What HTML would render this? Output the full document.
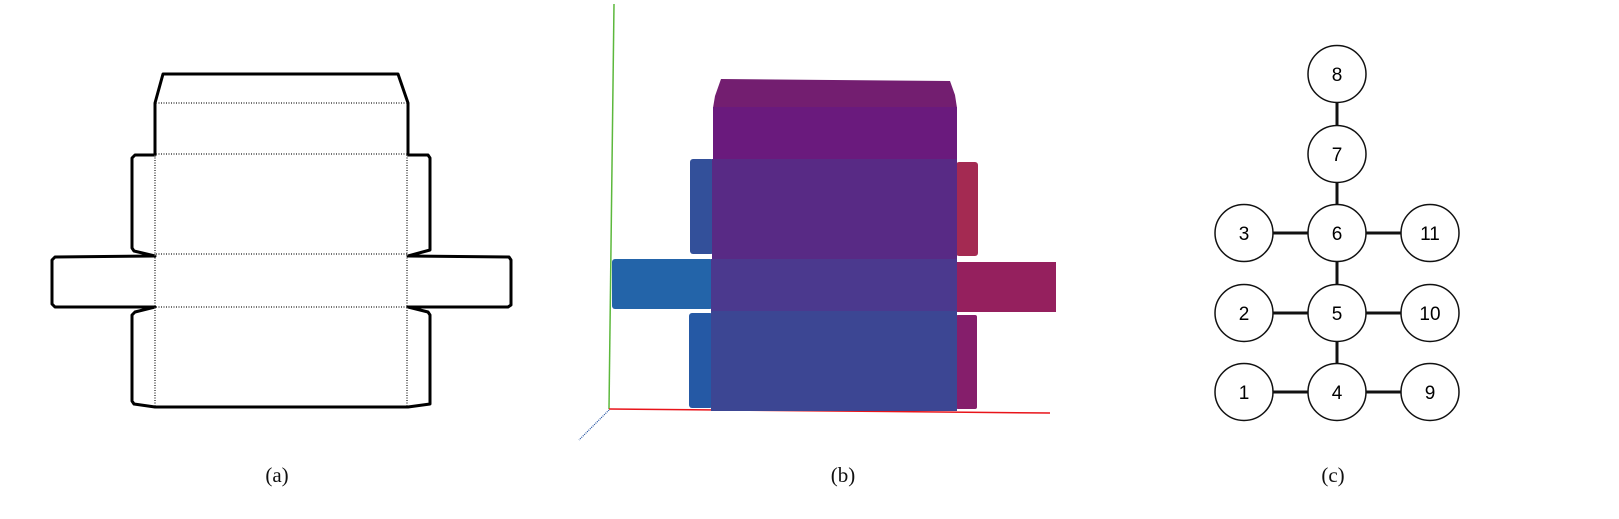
<!DOCTYPE html>
<html><head><meta charset="utf-8"><style>
html,body{margin:0;padding:0;background:#fff;}
svg{display:block;}
</style></head><body>
<svg width="1619" height="519" viewBox="0 0 1619 519" xmlns="http://www.w3.org/2000/svg">
<g>
  <path d="M163,74 L398,74 L408,103 L408,155 L428,155 L430,158 L430,250 L408,256 L509,257 L511,260 L511,305 L508,307 L408,307 L428,312 L430,315 L430,404 L408,407 L155,407 L134,404 L132,401 L132,315 L135,312 L155,307 L55,307 L52,304 L52,260 L55,257 L155,256 L134,251 L132,248 L132,158 L135,155 L155,155 L155,103 Z" fill="#fff" stroke="#000" stroke-width="3" stroke-linejoin="round"/>
  <g stroke="#444" stroke-width="1.5" stroke-dasharray="1 1.5" fill="none">
    <line x1="156" y1="103" x2="407" y2="103"/>
    <line x1="156" y1="154" x2="407" y2="154"/>
    <line x1="156" y1="254" x2="407" y2="254"/>
    <line x1="156" y1="307" x2="407" y2="307"/>
    <line x1="155" y1="155" x2="155" y2="406"/>
    <line x1="407" y1="155" x2="407" y2="406"/>
  </g>
</g>
<g>
  <line x1="614" y1="4" x2="609" y2="409" stroke="#5cb83c" stroke-width="1.5"/>
  <line x1="609" y1="409" x2="1050" y2="413" stroke="#e8141a" stroke-width="1.5"/>
  <line x1="609" y1="410" x2="579" y2="440" stroke="#1e4fa0" stroke-width="1.2" stroke-dasharray="1 1"/>
  <path d="M721,79 L950,81 L955,95 L957,108 L713,108 L715,96 Z" fill="#731e70"/>
  <rect x="713" y="107" width="244" height="53" fill="#6a1a7d"/>
  <rect x="690" y="159" width="24" height="95" rx="3" fill="#33509a"/>
  <rect x="956" y="162" width="22" height="94" rx="3" fill="#a42a52"/>
  <rect x="712" y="159" width="245" height="101" fill="#582a85"/>
  <rect x="612" y="259" width="101" height="50" rx="3" fill="#2364a9"/>
  <rect x="956" y="262" width="100" height="50" fill="#95205e"/>
  <rect x="711" y="259" width="246" height="53" fill="#4b398e"/>
  <rect x="689" y="313" width="24" height="95" rx="3" fill="#2559a5"/>
  <rect x="956" y="315" width="21" height="94" rx="2" fill="#851e6b"/>
  <rect x="711" y="311" width="246" height="100" fill="#3c4693"/>
</g>
<g font-family="'Liberation Sans', 'DejaVu Sans', sans-serif" font-size="19" text-anchor="middle">
  <g stroke="#111" stroke-width="3">
    <line x1="1337" y1="74" x2="1337" y2="392"/>
    <line x1="1244" y1="233" x2="1430" y2="233"/>
    <line x1="1244" y1="313" x2="1430" y2="313"/>
    <line x1="1244" y1="392" x2="1430" y2="392"/>
  </g>
  <g><ellipse cx="1337" cy="74" rx="29" ry="28.5" fill="#fff" stroke="#111" stroke-width="1.5"/><text x="1337" y="81">8</text></g>
  <g><ellipse cx="1337" cy="154" rx="29" ry="28.5" fill="#fff" stroke="#111" stroke-width="1.5"/><text x="1337" y="161">7</text></g>
  <g><ellipse cx="1337" cy="233" rx="29" ry="28.5" fill="#fff" stroke="#111" stroke-width="1.5"/><text x="1337" y="240">6</text></g>
  <g><ellipse cx="1337" cy="313" rx="29" ry="28.5" fill="#fff" stroke="#111" stroke-width="1.5"/><text x="1337" y="320">5</text></g>
  <g><ellipse cx="1337" cy="392" rx="29" ry="28.5" fill="#fff" stroke="#111" stroke-width="1.5"/><text x="1337" y="399">4</text></g>
  <g><ellipse cx="1244" cy="233" rx="29" ry="28.5" fill="#fff" stroke="#111" stroke-width="1.5"/><text x="1244" y="240">3</text></g>
  <g><ellipse cx="1244" cy="313" rx="29" ry="28.5" fill="#fff" stroke="#111" stroke-width="1.5"/><text x="1244" y="320">2</text></g>
  <g><ellipse cx="1244" cy="392" rx="29" ry="28.5" fill="#fff" stroke="#111" stroke-width="1.5"/><text x="1244" y="399">1</text></g>
  <g><ellipse cx="1430" cy="233" rx="29" ry="28.5" fill="#fff" stroke="#111" stroke-width="1.5"/><text x="1430" y="240">11</text></g>
  <g><ellipse cx="1430" cy="313" rx="29" ry="28.5" fill="#fff" stroke="#111" stroke-width="1.5"/><text x="1430" y="320">10</text></g>
  <g><ellipse cx="1430" cy="392" rx="29" ry="28.5" fill="#fff" stroke="#111" stroke-width="1.5"/><text x="1430" y="399">9</text></g>
</g>
<g font-family="'Liberation Serif', serif" font-size="21" text-anchor="middle" fill="#111">
  <text x="277" y="482">(a)</text>
  <text x="843" y="482">(b)</text>
  <text x="1333" y="482">(c)</text>
</g>
</svg>
</body></html>
